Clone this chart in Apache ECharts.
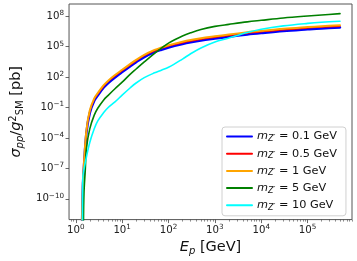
<!DOCTYPE html>
<html><head><meta charset="utf-8">
<script src="https://cdn.jsdelivr.net/npm/echarts@6/dist/echarts.min.js"></script>
<style>html,body{margin:0;padding:0;background:#fff}#c{width:357px;height:261px}</style>
</head><body><div id="c"></div>
<script>
// ---- data (cross sections given as log10 of sigma in pb) ----
const massLabels = ['0.1', '0.5', '1', '5', '10'];
const energyLight = [1.36,1.42,1.5,1.7,2,2.5,3,4,5,7,10,15,20,30,50,70,100,200,300,500,1000,2000,5000,1e4,3e4,1e5,2e5,5e5];
const energyGreen = [1.46,1.5,1.6,1.7,2,2.5,3,4,5,7,10,15,20,30,50,70,100,200,300,500,1000,2000,5000,1e4,3e4,1e5,2e5,5e5];
const energyCyan  = [1.39,1.42,1.5,1.7,2,2.5,3,4,5,7,10,15,20,30,50,70,100,200,300,500,1000,2000,5000,1e4,3e4,1e5,2e5,5e5];
const log10SigmaBlue   = [-13,-8.9,-6.8,-3.45,-1.55,-0.33,0.22,0.97,1.42,1.97,2.5,3.08,3.48,3.98,4.46,4.7,4.92,5.26,5.43,5.61,5.8,5.98,6.2,6.34,6.54,6.71,6.8,6.89];
const log10SigmaRed    = [-13,-8.75,-6.65,-3.33,-1.42,-0.2,0.35,1.1,1.55,2.1,2.62,3.2,3.6,4.1,4.58,4.82,5.04,5.38,5.55,5.73,5.92,6.1,6.32,6.46,6.66,6.83,6.92,7.01];
const log10SigmaOrange = [-13,-8.6,-6.5,-3.2,-1.3,-0.1,0.45,1.2,1.65,2.2,2.72,3.3,3.7,4.2,4.68,4.92,5.14,5.48,5.65,5.83,6.02,6.2,6.42,6.56,6.76,6.93,7.02,7.12];
const log10SigmaGreen  = [-13,-9.5,-7.2,-5.0,-3.1,-1.75,-1.05,-0.25,0.2,0.85,1.5,2.3,2.8,3.5,4.35,4.85,5.35,6.05,6.37,6.7,7.0,7.2,7.45,7.6,7.83,8.03,8.13,8.26];
const log10SigmaCyan   = [-13,-7.9,-7.1,-5.85,-4.45,-3.1,-2.3,-1.5,-1.0,-0.45,0.22,0.95,1.42,1.95,2.42,2.68,2.97,3.78,4.3,4.87,5.46,5.85,6.4,6.72,7.05,7.3,7.41,7.51];
const xTickValues = [1,10,100,1e3,1e4,1e5];
const yTickValues = [1e-10,1e-7,1e-4,1e-1,1e2,1e5,1e8];
const xMinorTicks = [0.8,0.9,2,3,4,5,6,7,8,9,20,30,40,50,60,70,80,90,200,300,400,500,600,700,800,900,2e3,3e3,4e3,5e3,6e3,7e3,8e3,9e3,2e4,3e4,4e4,5e4,6e4,7e4,8e4,9e4,2e5,3e5,4e5,5e5,6e5,7e5,8e5,9e5];

// ---- styling ----
const FONT = 'DejaVu Sans';
const X_MIN = 0.7145, X_MAX = 9.08e5;
const Y_MIN = 8.9e-13, Y_MAX = 1.62e9;
const colors = ['#0000ff','#ff0000','#ffa500','#008000','#00ffff'];
const widths = [2.5,1.2,2,1.6,1.6];
const energies = [energyLight, energyLight, energyLight, energyGreen, energyCyan];
const logSigmas = [log10SigmaBlue, log10SigmaRed, log10SigmaOrange, log10SigmaGreen, log10SigmaCyan];

function pow10Label(v){
  const e = Math.round(Math.log10(v));
  const s = e < 0 ? '\u2212' + (-e) : '' + e;
  return '{b|10}{e|' + s + '}';
}
const tickRich = {
  b: {fontSize: 10.2, fontFamily: FONT, color: '#222'},
  e: {fontSize: 7.2, fontFamily: FONT, color: '#222', padding: [0,0,6,0]}
};

const series = massLabels.map((m, i) => ({
  name: m,
  type: 'line',
  xAxisIndex: 0,
  yAxisIndex: 0,
  data: energies[i].map((x, k) => [x, Math.pow(10, logSigmas[i][k])]),
  showSymbol: false,
  symbol: 'none',
  smooth: 0.35,
  clip: true,
  lineStyle: {color: colors[i], width: widths[i], join: 'round', cap: 'round'},
  itemStyle: {color: colors[i]},
  z: 2 + i
}));

const nameRich = {
  i: {fontSize: 14.5, fontStyle: 'italic', fontFamily: FONT, color: '#111'},
  sub: {fontSize: 10, fontStyle: 'italic', fontFamily: FONT, color: '#111', padding: [7,0,0,0]},
  sm: {fontSize: 10, fontFamily: FONT, color: '#111', padding: [7,0,0,0]},
  sup: {fontSize: 10, fontFamily: FONT, color: '#111', padding: [0,0,7,0]},
  n: {fontSize: 14.5, fontFamily: FONT, color: '#111'}
};

const chart = echarts.init(document.getElementById('c'), null, {renderer: 'canvas'});
chart.setOption({
  animation: false,
  backgroundColor: '#fff',
  grid: {left: 59, top: 4, right: 5, bottom: 39, show: true, borderColor: '#555', borderWidth: 1, backgroundColor: 'transparent'},
  xAxis: [{
    type: 'log', logBase: 10, min: X_MIN, max: X_MAX, position: 'bottom',
    axisLine: {show: false},
    splitLine: {show: false},
    axisTick: {show: true, customValues: xTickValues, length: 3.5, lineStyle: {color: '#444', width: 0.8}},
    axisLabel: {show: true, customValues: xTickValues, margin: 4, formatter: pow10Label, rich: tickRich},
    name: '{i|E}{sub|p} {n|[GeV]}',
    nameLocation: 'middle', nameGap: 14,
    nameTextStyle: {fontSize: 14.5, fontFamily: FONT, color: '#111', rich: nameRich}
  }, {
    type: 'log', logBase: 10, min: X_MIN, max: X_MAX, position: 'bottom', gridIndex: 0,
    axisLine: {show: false}, splitLine: {show: false},
    axisLabel: {show: false},
    axisTick: {show: true, customValues: xMinorTicks, length: 2, lineStyle: {color: '#444', width: 0.6}}
  }],
  yAxis: [{
    type: 'log', logBase: 10, min: Y_MIN, max: Y_MAX,
    axisLine: {show: false},
    splitLine: {show: false},
    axisTick: {show: true, customValues: yTickValues, length: 3.5, lineStyle: {color: '#444', width: 0.8}},
    axisLabel: {show: true, customValues: yTickValues, margin: 5, formatter: pow10Label, rich: tickRich},
    name: '{i|σ}{sub|pp}{n|/}{i|g}{sup|2}{sm|SM} {n|[pb]}',
    nameLocation: 'middle', nameRotate: 90, nameGap: 36,
    nameTextStyle: {fontSize: 14.5, fontFamily: FONT, color: '#111', rich: nameRich}
  }],
  legend: {
    orient: 'vertical', left: 222, top: 127,
    padding: [4, 9, 4, 4], itemGap: 5.2, itemWidth: 25, itemHeight: 12,
    borderColor: '#d0d0d0', borderWidth: 1, borderRadius: 3,
    backgroundColor: 'rgba(255,255,255,0.8)',
    itemStyle: {opacity: 0},
    data: massLabels,
    formatter: name => '{i|m}{sub|Z\u2032}{n| = ' + name + ' GeV}',
    textStyle: {fontSize: 11.3, fontFamily: FONT, color: '#111', rich: {
      i: {fontSize: 11.3, fontStyle: 'italic', fontFamily: FONT, color: '#111'},
      sub: {fontSize: 8, fontStyle: 'italic', fontFamily: FONT, color: '#111', padding: [5,0,0,0]},
      n: {fontSize: 11.3, fontFamily: FONT, color: '#111'}
    }}
  },
  series: series
});
</script></body></html>
